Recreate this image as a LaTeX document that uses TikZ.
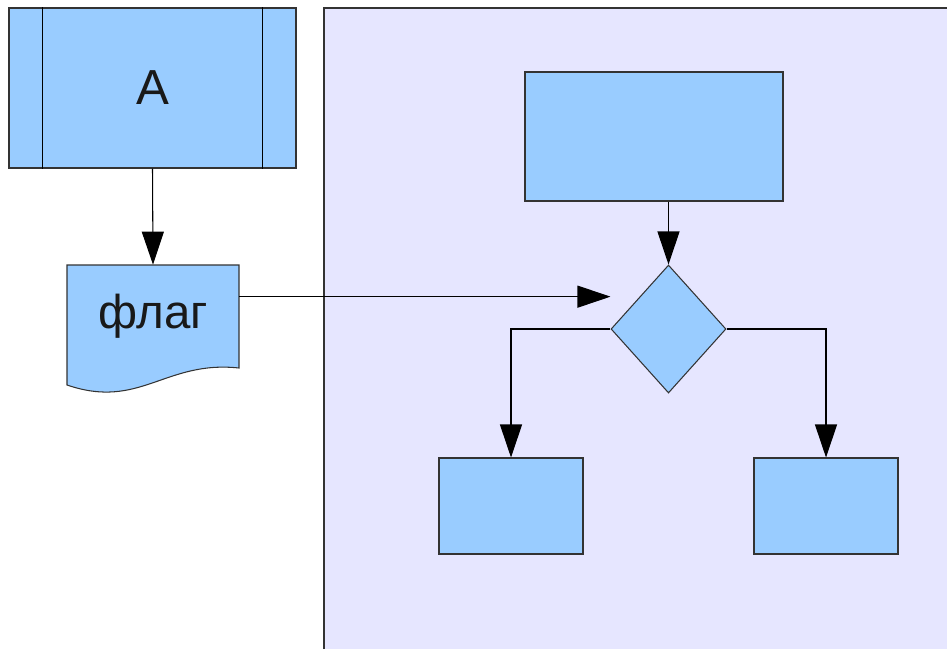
\documentclass[tikz,border=0pt]{standalone}
\usepackage{fontspec}
\setmainfont{Liberation Sans}
\usetikzlibrary{shapes.geometric,arrows.meta,positioning}

\definecolor{boxblue}{HTML}{99CCFF}
\definecolor{panel}{HTML}{E6E6FF}
\definecolor{edge}{HTML}{333333}

\tikzset{
	block/.style={rectangle, draw=edge, fill=boxblue, line width=0.6pt, inner sep=0pt},
	decision/.style={diamond, draw=edge, fill=boxblue, line width=0.6pt, inner sep=0pt,
		minimum width=2.3cm, minimum height=2.56cm},
	arr/.style={line width=0.6pt, -{Triangle[length=0.66cm,width=0.44cm]}}
}

\begin{document}
\begin{tikzpicture}
	\useasboundingbox (0,0) rectangle (18.94,-12.98);
	% panel on the right
	\fill[panel] (6.48,-0.16) rectangle (18.94,-12.98);
	\draw[edge, line width=0.6pt] (6.48,-12.98) |- (18.94,-0.16);
	
	% predefined process
	\node[block, minimum width=5.74cm, minimum height=3.2cm, text=black!90,
		font=\fontsize{28}{30}\selectfont] (prog) at (3.05,-1.76) {A};
	\draw[black, line width=0.6pt] ([xshift=0.68cm]prog.north west) -- ([xshift=0.68cm]prog.south west);
	\draw[black, line width=0.6pt] ([xshift=-0.68cm]prog.north east) -- ([xshift=-0.68cm]prog.south east);
	
	% document
	\filldraw[fill=boxblue, draw=edge, line width=0.6pt]
		(4.78,-7.36) -- (4.78,-5.30) -- (1.34,-5.30) -- (1.34,-7.70)
		.. controls (2.8,-8.2) and (3.3,-7.2) .. cycle;
	\node[minimum width=3.44cm, minimum height=2.06cm, inner sep=0pt, text=black!90,
		font=\fontsize{27}{30}\selectfont] (flag) at (3.06,-6.33) {\raisebox{-0.14cm}{флаг}};
	
	% flow inside the panel
	\node[block, minimum width=5.16cm, minimum height=2.58cm] (top) at (13.08,-2.73) {};
	\node[decision] (dec) at (13.37,-6.58) {};
	\node[block, minimum width=2.88cm, minimum height=1.92cm] (left) at (10.22,-10.12) {};
	\node[block, minimum width=2.88cm, minimum height=1.92cm] (right) at (16.52,-10.12) {};
	
	\coordinate (fl) at ([yshift=-0.64cm]flag.north east);
	
	\draw[arr] (prog.south) -- (flag.north);
	\draw[arr] (fl) -- (fl -| dec.west);
	\draw[arr] (top.south -| dec.north) -- (dec.north);
	\draw[arr] (dec.west) -| (left.north);
	\draw[arr] (dec.east) -| (right.north);
\end{tikzpicture}
\end{document}
